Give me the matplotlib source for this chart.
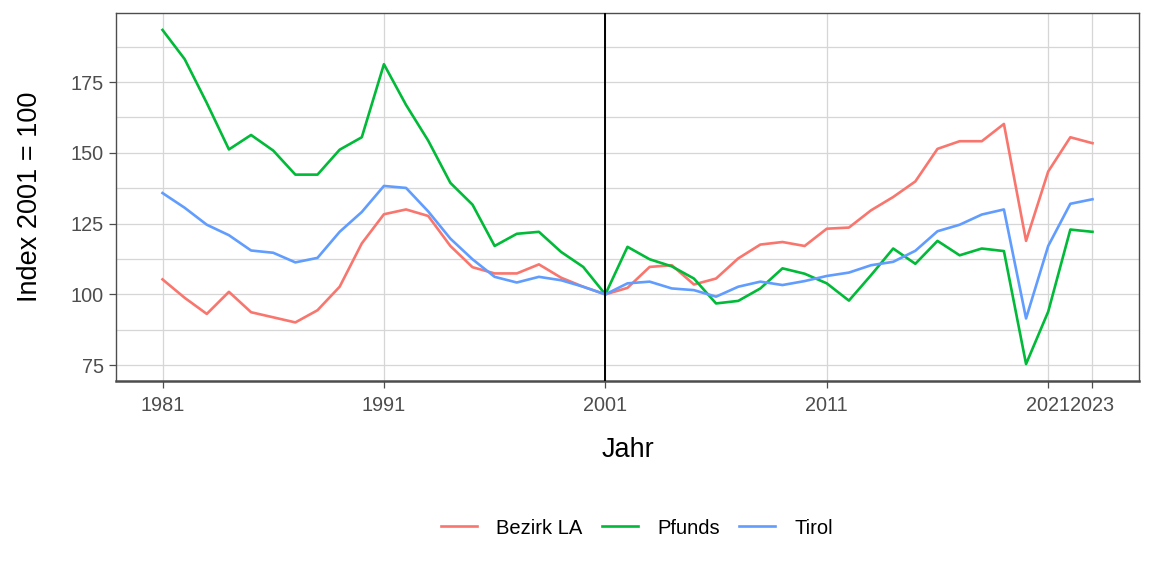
import numpy as np
import matplotlib
matplotlib.use("Agg")
from matplotlib import pyplot as plt

plt.rcParams['font.family'] = ['Liberation Sans', 'DejaVu Sans']

years = list(range(1981, 2024))

bezirk_la = [105.3, 98.8, 93.1, 100.9, 93.7, 91.9, 90.1, 94.4, 102.7, 118.0,
             128.3, 130.0, 127.7, 117.1, 109.6, 107.4, 107.4, 110.6, 105.9, 102.7,
             100.0, 102.3, 109.7, 110.3, 103.5, 105.6, 112.7, 117.6, 118.5, 117.1,
             123.2, 123.6, 129.7, 134.4, 139.9, 151.4, 154.1, 154.1, 160.2, 118.9,
             143.4, 155.5, 153.4]

pfunds = [193.4, 183.1, 167.6, 151.2, 156.3, 150.8, 142.3, 142.3, 151.1, 155.5,
          181.3, 166.9, 154.3, 139.4, 131.7, 117.1, 121.4, 122.1, 115.0, 109.7,
          100.0, 116.8, 112.4, 109.9, 105.6, 96.8, 97.7, 102.1, 109.2, 107.3,
          103.9, 97.8, 106.8, 116.2, 110.8, 118.9, 113.8, 116.2, 115.3, 75.4,
          93.9, 122.9, 122.1]

tirol = [135.8, 130.6, 124.6, 120.9, 115.5, 114.7, 111.3, 112.9, 122.1, 129.1,
         138.3, 137.6, 129.3, 119.7, 112.4, 106.2, 104.2, 106.2, 105.0, 102.7,
         100.0, 103.9, 104.5, 102.1, 101.5, 99.2, 102.7, 104.5, 103.3, 104.7,
         106.5, 107.7, 110.3, 111.5, 115.4, 122.3, 124.6, 128.2, 130.0, 91.5,
         117.1, 132.0, 133.6]

series_names = ['Bezirk LA', 'Pfunds', 'Tirol']
series_colors = ['#F8766D', '#00BA38', '#619CFF']
x_breaks = [1981, 1991, 2001, 2011, 2021, 2023]
y_breaks = [75, 100, 125, 150, 175]
y_minor = [87.5, 112.5, 137.5, 162.5, 187.5]

fig = plt.figure(figsize=(11.52, 5.76), dpi=100)
ax = fig.add_axes([0.1007, 0.339, 0.888, 0.638])

for name, vals, col in zip(series_names, [bezirk_la, pfunds, tirol], series_colors):
    ax.plot(years, vals, color=col, lw=1.9, label=name, zorder=3)

ax.axvline(2001, color='black', lw=1.4, zorder=4)

# ggplot-like expansion
allv = np.concatenate([bezirk_la, pfunds, tirol])
ymin, ymax = allv.min(), allv.max()
pad = 0.05 * (ymax - ymin)
ax.set_ylim(ymin - pad, ymax + pad)
xpad = 0.05 * (years[-1] - years[0])
ax.set_xlim(years[0] - xpad, years[-1] + xpad)

ax.set_xticks(x_breaks)
ax.set_xticklabels([str(b) for b in x_breaks])
ax.set_yticks(y_breaks)
ax.set_yticks(y_minor, minor=True)
ax.grid(which='major', color='#d6d6d6', lw=0.9, zorder=0)
ax.grid(which='minor', axis='y', color='#d6d6d6', lw=0.9, zorder=0)
ax.tick_params(which='minor', length=0)
ax.tick_params(which='major', length=5, width=0.9, color='#4d4d4d',
               labelsize=14.3, labelcolor='#4d4d4d', pad=4)
ax.tick_params(axis='x', pad=6)

for s in ax.spines.values():
    s.set_color('#4d4d4d')
    s.set_linewidth(1.0)
ax.spines['bottom'].set_linewidth(1.8)

ax.set_xlabel('Jahr', fontsize=19.5, labelpad=16)
ax.set_ylabel('Index 2001 = 100', fontsize=19.5, labelpad=20)

handles, labels = ax.get_legend_handles_labels()
fig.legend(handles, labels, loc='center', bbox_to_anchor=(637 / 1152, 1 - 528 / 576),
           ncol=3, frameon=False, fontsize=14.5, handlelength=1.8,
           handletextpad=0.95, columnspacing=0.95)

fig.savefig('out.png', dpi=100)
